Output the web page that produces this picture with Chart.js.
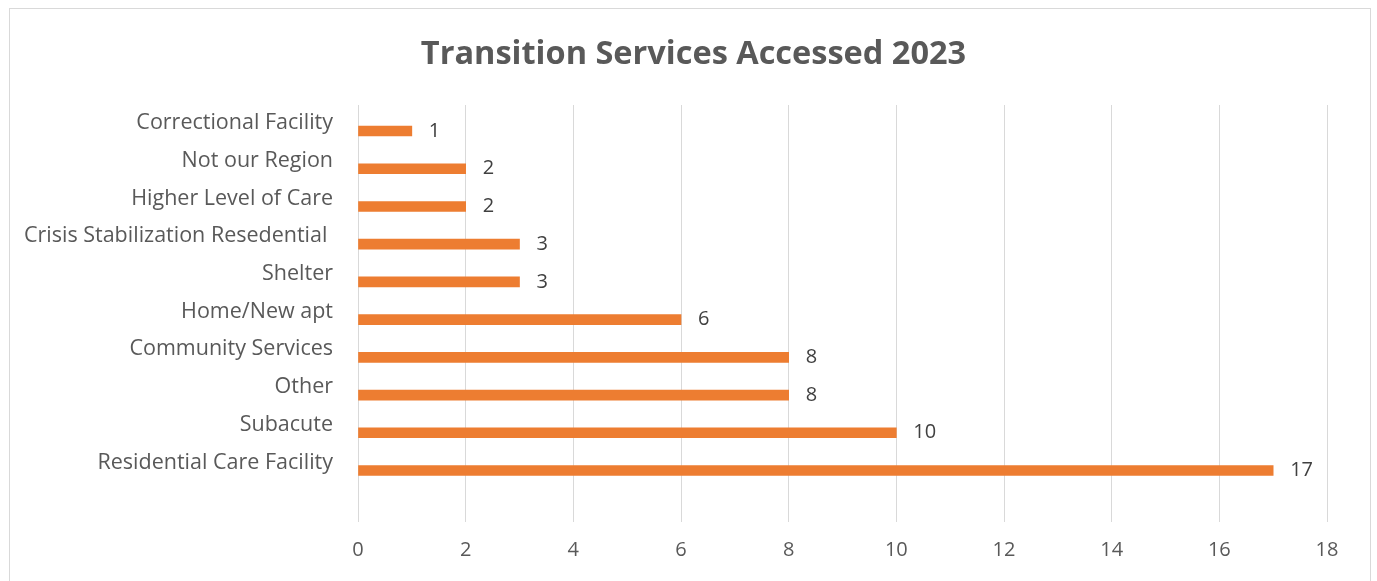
<!DOCTYPE html>
<html>
<head>
<meta charset="utf-8">
<script src="https://cdn.jsdelivr.net/npm/chart.js@4"></script>
<style>
  html, body { margin: 0; padding: 0; background: #ffffff; }
  #wrap { position: relative; width: 1377px; height: 581px; overflow: hidden; }
  #frame { position: absolute; left: 9px; top: 8px; width: 1362px; height: 600px; border: 1px solid #d9d9d9; box-sizing: border-box; }
  canvas { position: absolute; left: 0; top: 0; }
</style>
</head>
<body>
<div id="wrap">
  <div id="frame"></div>
  <canvas id="c" width="1377" height="581"></canvas>
</div>
<script>
const titleText = "Transition Services Accessed 2023";
const categories = [
  "Correctional Facility",
  "Not our Region",
  "Higher Level of Care",
  "Crisis Stabilization Resedential ",
  "Shelter",
  "Home/New apt",
  "Community Services",
  "Other",
  "Subacute",
  "Residential Care Facility"
];
const counts = [1, 2, 2, 3, 3, 6, 8, 8, 10, 17];
const xTicks = [0, 2, 4, 6, 8, 10, 12, 14, 16, 18];

const FONT = "'Open Sans', 'Noto Sans', sans-serif";

const valueLabels = {
  id: 'valueLabels',
  afterDatasetsDraw(chart) {
    const ctx = chart.ctx;
    const meta = chart.getDatasetMeta(0);
    ctx.save();
    ctx.font = "20px " + FONT;
    ctx.fillStyle = "#404040";
    ctx.textAlign = "left";
    ctx.textBaseline = "middle";
    meta.data.forEach((bar, i) => {
      ctx.fillText(String(counts[i]), bar.x + 17, bar.y);
    });
    ctx.restore();
  }
};

new Chart(document.getElementById('c'), {
  type: 'bar',
  data: {
    datasets: [{
      data: counts.map((v, i) => ({ x: v, y: i })),
      backgroundColor: '#ED7D31',
      borderWidth: 0,
      barThickness: 10
    }]
  },
  options: {
    indexAxis: 'y',
    responsive: false,
    animation: false,
    layout: { padding: { left: 10, right: 0, top: 0, bottom: 0 } },
    plugins: {
      legend: { display: false },
      tooltip: { enabled: false },
      title: {
        display: true,
        text: titleText,
        color: '#595959',
        font: { family: FONT, size: 32.5, weight: 'bold' },
        padding: { top: 35, bottom: 31 }
      }
    },
    scales: {
      x: {
        type: 'linear',
        position: 'bottom',
        min: 0,
        max: 18,
        afterBuildTicks(scale) { scale.ticks = xTicks.map(v => ({ value: v })); },
        afterFit(scale) { scale.height = 59; },
        grid: { color: '#d9d9d9', lineWidth: 1, drawTicks: false },
        border: { display: false },
        ticks: { color: '#595959', font: { family: FONT, size: 20 }, padding: 16 }
      },
      y: {
        type: 'linear',
        position: 'left',
        reverse: true,
        offset: false,
        bounds: 'data',
        min: -0.69,
        max: 10.365,
        afterBuildTicks(scale) { scale.ticks = categories.map((_, i) => ({ value: i })); },
        afterFit(scale) { scale.width = 348; },
        grid: { display: false, drawTicks: false, offset: false },
        border: { display: false },
        ticks: {
          color: '#595959',
          font: { family: FONT, size: 21.5 },
          padding: 25,
          labelOffset: -8,
          autoSkip: false,
          callback: (v) => categories[v]
        }
      },
      yRight: {
        type: 'linear',
        position: 'right',
        display: true,
        offset: false,
        afterFit(scale) { scale.width = 50; },
        grid: { display: false, drawTicks: false },
        border: { display: false },
        ticks: { display: false }
      }
    }
  },
  plugins: [valueLabels]
});
</script>
</body>
</html>
